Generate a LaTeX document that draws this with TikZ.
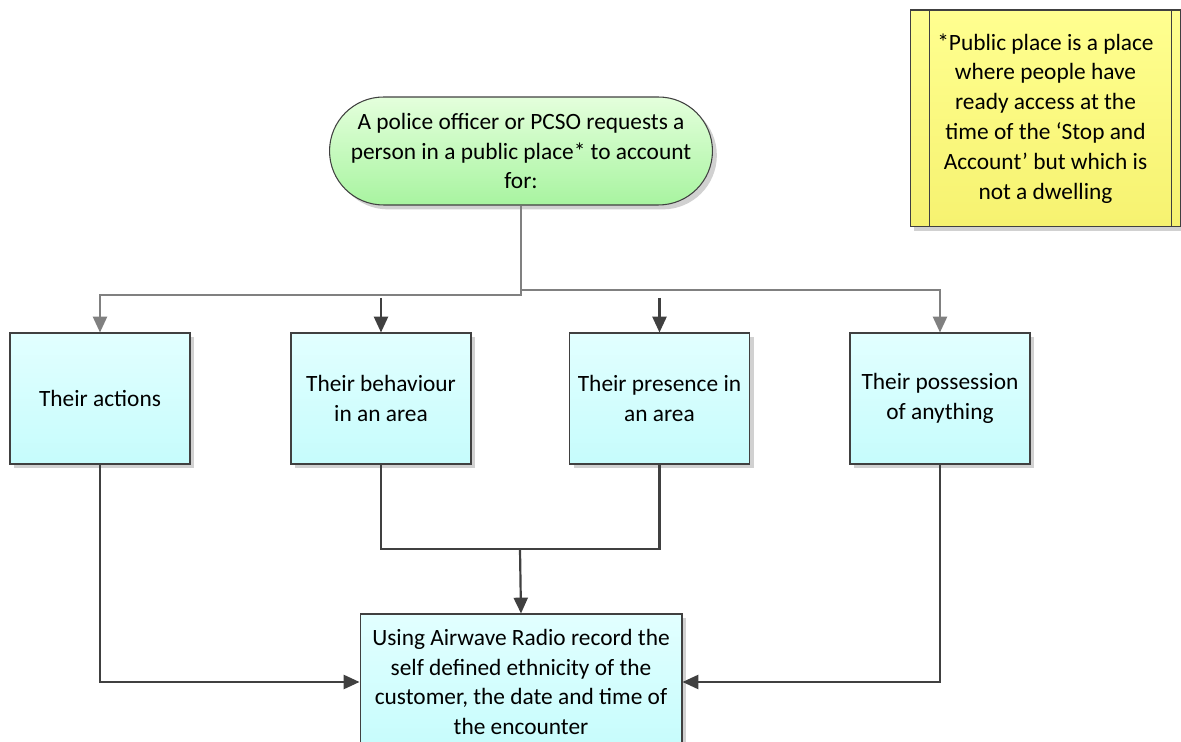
\documentclass[tikz,border=0pt]{standalone}
\usepackage{fontspec}
\setmainfont{Carlito}
\usetikzlibrary{arrows.meta,shadows}

\definecolor{boxtop}{HTML}{E2FFFF}
\definecolor{boxbot}{HTML}{C6FCFC}
\definecolor{starttop}{HTML}{E4FFDC}
\definecolor{startbot}{HTML}{A8F4A0}
\definecolor{notetop}{HTML}{FFFF90}
\definecolor{notebot}{HTML}{F6F270}
\definecolor{linedark}{HTML}{404040}
\definecolor{linegray}{HTML}{808080}

\tikzset{
  every node/.style={font=\fontsize{13.3}{17}\selectfont, align=center},
  shade box/.style={drop shadow={shadow xshift=2.5pt, shadow yshift=-2.5pt, fill=black!18, opacity=1}},
  startbox/.style={draw=linedark, line width=0.6pt, top color=starttop, bottom color=startbot,
    minimum width=7.66cm, minimum height=2.16cm, rounded corners=1.08cm, shade box},
  stepbox/.style={draw=linedark, line width=0.6pt, top color=boxtop, bottom color=boxbot,
    minimum width=3.6cm, minimum height=2.62cm, shade box},
  notebox/.style={draw=linedark, line width=0.6pt, top color=notetop, bottom color=notebot,
    minimum width=5.42cm, minimum height=4.34cm, shade box},
  darkline/.style={draw=linedark, line width=1.25pt},
  grayline/.style={draw=linegray, line width=1.25pt},
  darkarrow/.style={darkline, -{Triangle[length=9pt, width=8pt]}},
  grayarrow/.style={grayline, -{Triangle[length=9pt, width=8pt]}}
}

\begin{document}
\begin{tikzpicture}[x=0.02cm, y=-0.02cm]
  \useasboundingbox (0,0) rectangle (1181,742);

  % note on public place
  \node[notebox] (note) at (1045.5,118.5) {*Public place is a place\\where people have\\ready access at the\\time of the ‘Stop and\\Account’ but which is\\not a dwelling};
  \draw[linedark, line width=0.6pt] ([xshift=0.4cm]note.north west) -- ([xshift=0.4cm]note.south west);
  \draw[linedark, line width=0.6pt] ([xshift=-0.2cm]note.north east) -- ([xshift=-0.2cm]note.south east);

  % start
  \node[startbox] (start) at (521,151) {A police officer or PCSO requests a\\person in a public place* to account\\for:};

  % things to account for
  \node[stepbox] (act) at (100,398.5) {Their actions};
  \node[stepbox] (beh) at (381,398.5) {Their behaviour\\in an area};
  \node[stepbox] (pres) at (659.5,398.5) {Their presence in\\an area};
  \node[stepbox] (poss) at (940,398.5) {Their possession\\of anything};

  % record
  \node[stepbox, minimum width=6.44cm, minimum height=2.72cm] (rec) at (521,682) {Using Airwave Radio record the\\self defined ethnicity of the\\customer, the date and time of\\the encounter};

  % split points
  \coordinate (splitL) at (521,295);
  \coordinate (splitR) at (521,290);
  \coordinate (behIn) at (381,298);
  \coordinate (presIn) at (659.5,298);
  \coordinate (join) at (520,549);

  % arrows down
  \draw[grayarrow] (start.south) -- (splitL) -| (act.north);
  \draw[grayarrow] (splitR) -| (poss.north);
  \draw[darkarrow] (behIn) -- (beh.north);
  \draw[darkarrow] (presIn) -- (pres.north);

  % arrows to record
  \draw[darkline] (beh.south) |- (join) -| (pres.south);
  \draw[darkarrow] (join) -- (rec.north);
  \draw[darkarrow] (act.south) |- (rec.west);
  \draw[darkarrow] (poss.south) |- (rec.east);
\end{tikzpicture}
\end{document}
